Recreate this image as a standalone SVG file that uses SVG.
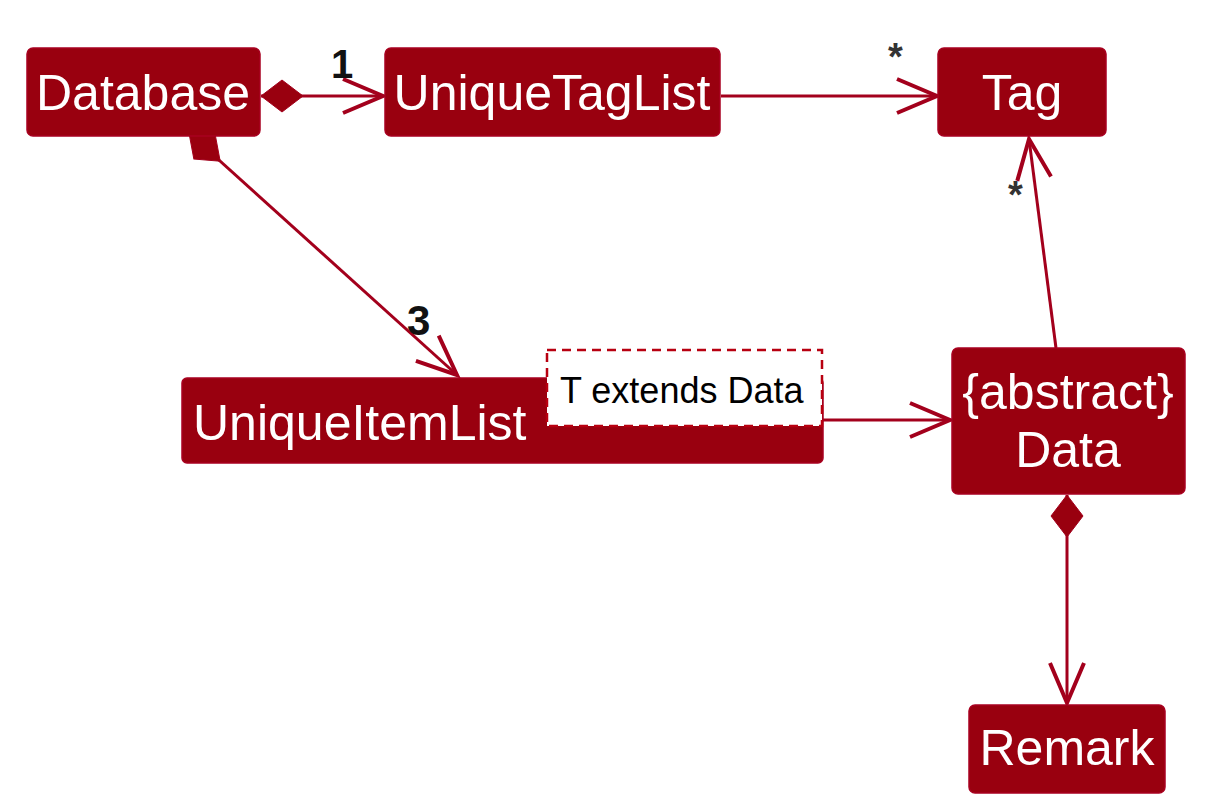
<svg xmlns="http://www.w3.org/2000/svg" width="1206" height="811" viewBox="0 0 1206 811">
  <style>
    .cls { fill: #99000F; stroke: #A80020; stroke-width: 1.5; }
    .cname { font-family: "Liberation Sans", Arial, sans-serif; font-size: 50px; fill: #FFFFFF; text-anchor: middle; }
    .edge { fill: none; stroke: #A3001C; stroke-width: 3; }
    .lbl { font-family: "Liberation Sans", Arial, sans-serif; font-weight: bold; fill: #111111; }
    .star { font-family: "Liberation Sans", Arial, sans-serif; font-weight: bold; fill: #333333; }
    .note { fill: #FFFFFF; stroke: #B80010; stroke-width: 2.5; stroke-dasharray: 9 6; }
    .ntext { font-family: "Liberation Sans", Arial, sans-serif; font-size: 36px; fill: #000000; }
  </style>
  <defs>
    <marker id="arrow" markerUnits="userSpaceOnUse" viewBox="-45 -22 50 44" markerWidth="50" markerHeight="44" refX="0" refY="0" orient="auto" overflow="visible">
      <path d="M-40,-17 L0,0 L-40,17" fill="none" stroke="#A3001C" stroke-width="4" stroke-linejoin="miter"/>
    </marker>
    <marker id="diamond" markerUnits="userSpaceOnUse" viewBox="-2 -20 48 40" markerWidth="48" markerHeight="40" refX="0" refY="0" orient="auto" overflow="visible">
      <path d="M0,0 L21,-16 L42,0 L21,16 Z" fill="#99000F" stroke="#A3001C" stroke-width="1"/>
    </marker>
  </defs>
  <rect width="1206" height="811" fill="#FFFFFF"/>

  <g id="connectors">
    <path class="edge" d="M261,96 L383,96" marker-start="url(#diamond)" marker-end="url(#arrow)"/>
    <path class="edge" d="M721,96 L937,96" marker-end="url(#arrow)"/>
    <path class="edge" d="M189,133 L457,375" marker-start="url(#diamond)" marker-end="url(#arrow)"/>
    <path class="edge" d="M823,420 L950,420" marker-end="url(#arrow)"/>
    <path class="edge" d="M1056,348 L1029,139" marker-end="url(#arrow)"/>
    <path class="edge" d="M1067,495 L1067,703" marker-start="url(#diamond)" marker-end="url(#arrow)"/>
    <text class="lbl" x="331" y="78" font-size="40">1</text>
    <text class="lbl" x="407" y="335" font-size="42">3</text>
    <text class="star" x="888" y="70" font-size="38">*</text>
    <text class="star" x="1008" y="208" font-size="38">*</text>
  </g>

  <g id="Database">
    <rect class="cls" x="27" y="48" width="233" height="88" rx="6"/>
    <text class="cname" x="143" y="110">Database</text>
  </g>
  <g id="UniqueTagList">
    <rect class="cls" x="385" y="48" width="335" height="88" rx="6"/>
    <text class="cname" x="552" y="110">UniqueTagList</text>
  </g>
  <g id="Tag">
    <rect class="cls" x="938" y="48" width="168" height="88" rx="6"/>
    <text class="cname" x="1022" y="110">Tag</text>
  </g>
  <g id="UniqueItemList">
    <rect class="cls" x="182" y="378" width="641" height="85" rx="5"/>
    <text class="cname" x="193" y="440" style="text-anchor:start">UniqueItemList</text>
  </g>
  <g id="note">
    <rect class="note" x="547" y="350" width="275" height="76"/>
    <text class="ntext" x="560" y="403">T extends Data</text>
  </g>
  <g id="Data">
    <rect class="cls" x="952" y="348" width="233" height="146" rx="6"/>
    <text class="cname" x="1068" y="409">{abstract}</text>
    <text class="cname" x="1068" y="467">Data</text>
  </g>
  <g id="Remark">
    <rect class="cls" x="969" y="705" width="196" height="88" rx="6"/>
    <text class="cname" x="1067" y="765">Remark</text>
  </g>
</svg>
